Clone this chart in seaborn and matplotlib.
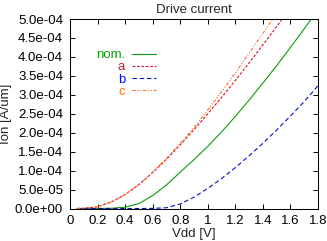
import numpy as np
import pandas as pd
import seaborn as sns
import matplotlib
matplotlib.use('Agg')
import matplotlib.pyplot as plt
from matplotlib.ticker import FuncFormatter

vdd = [0.05, 0.1, 0.2, 0.3, 0.4, 0.5, 0.6, 0.7, 0.8, 0.9, 1.0,
       1.1, 1.2, 1.3, 1.4, 1.5, 1.6, 1.7, 1.8]

ion_nom = [0, 0, 0, 0.5e-6, 3.5e-6, 1.3e-5, 3.4e-5, 6.2e-5, 9.6e-5, 1.29e-4, 1.64e-4,
           2.02e-4, 2.43e-4, 2.86e-4, 3.31e-4, 3.77e-4, 4.25e-4, 4.74e-4, 5.24e-4]
ion_a = [0, 0.5e-6, 4.5e-6, 1.7e-5, 3.7e-5, 6.3e-5, 9.5e-5, 1.30e-4, 1.68e-4, 2.08e-4, 2.50e-4,
         2.93e-4, 3.38e-4, 3.84e-4, 4.32e-4, 4.80e-4, 5.30e-4, 5.80e-4, 6.30e-4]
ion_b = [0, 0, 0, 0, 0, 0, 0.3e-6, 2.0e-6, 1.2e-5, 3.0e-5, 5.3e-5,
         7.9e-5, 1.08e-4, 1.39e-4, 1.72e-4, 2.07e-4, 2.44e-4, 2.82e-4, 3.24e-4]
ion_c = [0, 0.5e-6, 4.5e-6, 1.7e-5, 3.7e-5, 6.3e-5, 9.6e-5, 1.32e-4, 1.72e-4, 2.14e-4, 2.60e-4,
         3.08e-4, 3.58e-4, 4.10e-4, 4.62e-4, 5.15e-4, 5.70e-4, 6.25e-4, 6.80e-4]

labels = ['nom.', 'a', 'b', 'c']
colors = ['#109910', '#d8102c', '#0010cc', '#ff7020']
styles = ['-', (0, (2.5, 1.5)), (0, (4, 2.5)), (0, (3, 1.5, 1, 1.5, 1, 1.5))]

xticks = [0, 0.2, 0.4, 0.6, 0.8, 1.0, 1.2, 1.4, 1.6, 1.8]
yticks = [0, 5e-5, 1e-4, 1.5e-4, 2e-4, 2.5e-4, 3e-4, 3.5e-4, 4e-4, 4.5e-4, 5e-4]

sns.set_style('ticks')
plt.rcParams['font.family'] = ['Liberation Sans', 'DejaVu Sans']
plt.rcParams['font.size'] = 9.5

fig = plt.figure(figsize=(3.27, 2.41), dpi=100)
ax = fig.add_axes([70/327, 1-208.5/241, 248/327, 189.5/241])

for lab, ys, c, ls in zip(labels, [ion_nom, ion_a, ion_b, ion_c], colors, styles):
    sns.lineplot(x=vdd, y=ys, ax=ax, color=c, linestyle=ls, linewidth=0.8, label=lab)

ax.set_xlim(0, 1.8)
ax.set_ylim(0, 5e-4)
ax.set_xticks(xticks)
ax.set_yticks(yticks)
ax.xaxis.set_major_formatter(FuncFormatter(lambda v, p: '%g' % v))
ax.yaxis.set_major_formatter(FuncFormatter(lambda v, p: '%.1e' % v))
ax.tick_params(direction='in', length=3.8, width=0.7, top=True, right=True,
               labelsize=9.5, colors='black')
ax.tick_params(axis='x', pad=4.5)
ax.tick_params(axis='y', pad=5)
for s in ax.spines.values():
    s.set_visible(True)
    s.set_linewidth(0.75)
    s.set_color('black')

ax.set_title('Drive current', fontsize=9.5, pad=4)
ax.set_xlabel('Vdd [V]', fontsize=9.5, labelpad=1)
ax.set_ylabel('Ion [A/um]', fontsize=9.5, labelpad=2)

ax.legend(loc='upper right', bbox_to_anchor=(156/327, 1-49/241),
          bbox_transform=fig.transFigure, frameon=False, markerfirst=False,
          handlelength=1.8, handletextpad=0.55, labelspacing=0.0,
          borderpad=0, borderaxespad=0, labelcolor=colors, fontsize=9.5)

fig.savefig('out.png', dpi=100)
